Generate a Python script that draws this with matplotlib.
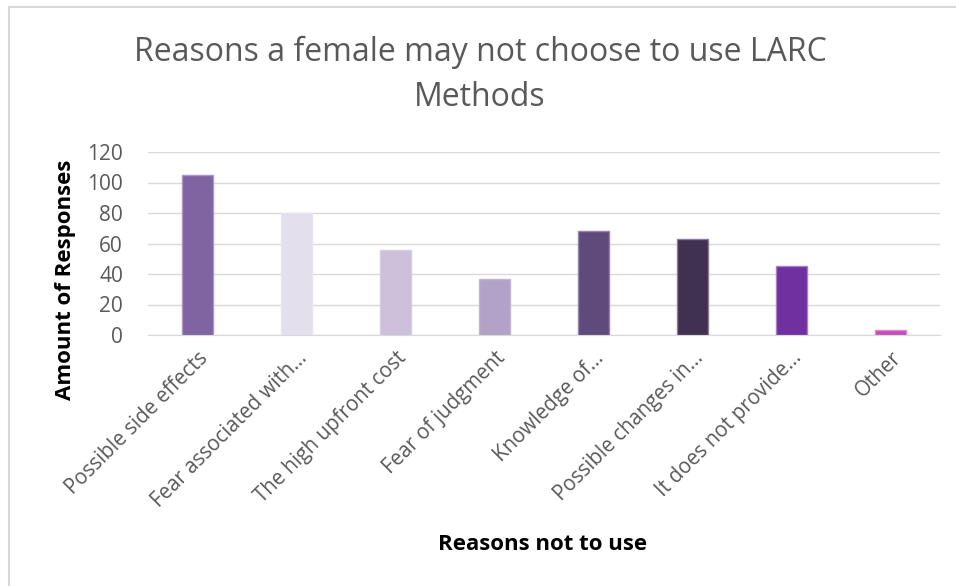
import matplotlib.pyplot as plt
from matplotlib.patches import Rectangle

categories = ["Possible side effects", "Fear associated with...", "The high upfront cost",
              "Fear of judgment", "Knowledge of...", "Possible changes in...",
              "It does not provide...", "Other"]
responses = [105, 80, 56, 37, 68, 63, 45, 3]
bar_colors = ["#8064a2", "#e4dfec", "#ccc0da", "#b3a2c7",
              "#604a7b", "#403151", "#7030a0", "#c44dbb"]
edge_colors = ["#a896c4", "#e9e4f0", "#d6cce3", "#c2b5d6",
               "#9384a8", "#8a7d9c", "#a77fc6", "#d98ad2"]
yticks = [0, 20, 40, 60, 80, 100, 120]

plt.rcParams["font.family"] = ["Open Sans", "DejaVu Sans"]

fig = plt.figure(figsize=(9.56, 5.86), dpi=100)
ax = fig.add_axes([148 / 956, 1 - 335 / 586, 792 / 956, 183 / 586])

# chart frame like the spreadsheet export
fig.patches.append(Rectangle((9 / 956, -0.1), 1.2, 1 - 7 / 586 + 0.1,
                             transform=fig.transFigure, fill=False,
                             edgecolor="#d9d9d9", linewidth=1.5))

x = range(len(categories))
ax.bar(x, responses, width=0.31, color=bar_colors, edgecolor=edge_colors,
       linewidth=1, zorder=3)

ax.set_xlim(-0.5, len(categories) - 0.5)
ax.set_ylim(0, 120)
ax.set_yticks(yticks)
ax.yaxis.grid(True, color="#d9d9d9", linewidth=1, zorder=0)
for side in ["top", "right", "left"]:
    ax.spines[side].set_visible(False)
ax.spines["bottom"].set_color("#d9d9d9")
ax.tick_params(axis="both", length=0, colors="#595959")
ax.tick_params(axis="y", pad=18, labelsize=15)
ax.set_xticks(list(x))
ax.set_xticklabels(categories, rotation=45, ha="right", rotation_mode="anchor",
                   fontsize=14.8)
ax.tick_params(axis="x", pad=9)

fig.text(480 / 956, 1 - 52 / 586, "Reasons a female may not choose to use LARC",
         ha="center", va="center", fontsize=23, color="#595959")
fig.text(480 / 956, 1 - 97 / 586, "Methods",
         ha="center", va="center", fontsize=23, color="#595959")

fig.text(543 / 956, 1 - 545 / 586, "Reasons not to use", ha="center", va="center",
         fontsize=16, fontweight="bold", color="black")
fig.text(66 / 956, 1 - 280 / 586, "Amount of Responses", ha="center", va="center",
         rotation=90, fontsize=16, fontweight="bold", color="black")

fig.savefig("out.png", dpi=100)
